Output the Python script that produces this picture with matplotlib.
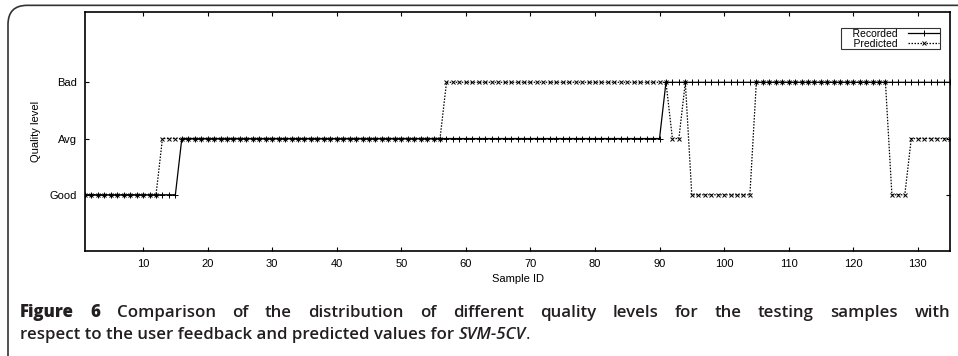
import matplotlib
matplotlib.use("Agg")
import matplotlib.pyplot as plt
from matplotlib.patches import FancyBboxPatch

# quality levels (y positions) and runs of samples: (first id, last id, level)
levels = ["Good", "Avg", "Bad"]
level_values = [1, 2, 3]

recorded_runs = [(1, 15, "Good"), (16, 90, "Avg"), (91, 135, "Bad")]
predicted_runs = [(1, 12, "Good"), (13, 56, "Avg"), (57, 91, "Bad"),
                  (92, 93, "Avg"), (94, 94, "Bad"), (95, 104, "Good"),
                  (105, 125, "Bad"), (126, 128, "Good"), (129, 135, "Avg")]

x_ticks = [10, 20, 30, 40, 50, 60, 70, 80, 90, 100, 110, 120, 130]


def expand(runs):
    ids, vals = [], []
    for first, last, lev in runs:
        for i in range(first, last + 1):
            ids.append(i)
            vals.append(level_values[levels.index(lev)])
    return ids, vals


rec_x, rec_y = expand(recorded_runs)
pred_x, pred_y = expand(predicted_runs)

plt.rcParams['font.family'] = ['Liberation Sans', 'DejaVu Sans']

W, H = 958, 356
fig = plt.figure(figsize=(W / 100, H / 100), dpi=100)
ax = fig.add_axes([85 / W, 1 - 251 / H, (950 - 85) / W, (251 - 12) / H])

l1, = ax.plot(rec_x, rec_y, color='black', lw=0.9, marker='+', ms=4.5,
              mew=0.7)
l2, = ax.plot(pred_x, pred_y, color='black', lw=0.9, ls=(0, (1.2, 1.2)),
              marker='x', ms=3.5, mew=0.7)

ax.set_xlim(1, 135)
ax.set_ylim(0, 4.25)
ax.set_xticks(x_ticks)
ax.set_yticks(level_values)
ax.set_yticklabels(levels)
ax.tick_params(direction='in', length=3, width=0.8, labelsize=8, top=True,
               right=True, pad=6)
for s in ax.spines.values():
    s.set_linewidth(1.2)
ax.set_xlabel('Sample ID', fontsize=8, labelpad=3)
ax.set_ylabel('Quality level', fontsize=8, labelpad=6)

# legend: labels first, sample line on the right (right-aligned rows)
leg = ax.legend([l1, l2], ['    Recorded', '    Predicted'], loc='upper right',
                bbox_to_anchor=(940 / W, 1 - 28 / H),
                bbox_transform=fig.transFigure, markerfirst=False, fontsize=7.5,
                frameon=True, fancybox=False, edgecolor='black',
                borderpad=0.05, labelspacing=0.0, handlelength=3.0,
                handletextpad=1.0, borderaxespad=0)
leg.get_frame().set_linewidth(0.8)

# outer frame of the figure panel
frame = FancyBboxPatch((8 / W, -0.2), 1.2, 1.185, transform=fig.transFigure,
                       boxstyle='round,pad=0,rounding_size=0.02',
                       fc='none', ec='#333333', lw=1.2, clip_on=False,
                       mutation_aspect=W / H)
fig.add_artist(frame)

# caption, first line justified between x=20 and x=950
renderer = fig.canvas.get_renderer()
cap_font = ['Open Sans', 'DejaVu Sans']
cap_color = '#231f20'
fs = 12.2
y1 = 1 - 317 / H
y2 = 1 - 339 / H
words = ['Figure', '6', 'Comparison', 'of', 'the', 'distribution', 'of',
         'different', 'quality', 'levels', 'for', 'the', 'testing', 'samples',
         'with']
items = []
for k, w in enumerate(words):
    weight = 'heavy' if k < 2 else 'semibold'
    items.append(fig.text(0, y1, w, fontsize=fs, fontweight=weight,
                          family=cap_font, color=cap_color))
widths = [t.get_window_extent(renderer).width for t in items]
gap = (930 - sum(widths)) / (len(words) - 1)
x = 20
for t, w in zip(items, widths):
    t.set_x(x / W)
    x += w + gap

t = fig.text(20 / W, y2, 'respect to the user feedback and predicted values for ',
             fontsize=fs, fontweight='semibold', family=cap_font, color=cap_color)
bb = t.get_window_extent(renderer)
t2 = fig.text(bb.x1 / W, y2, 'SVM-5CV', fontsize=fs, fontweight='semibold',
              style='italic', family=cap_font, color=cap_color)
bb2 = t2.get_window_extent(renderer)
fig.text(bb2.x1 / W, y2, '.', fontsize=fs, family=cap_font, color=cap_color)

fig.savefig('out.png', dpi=100)
